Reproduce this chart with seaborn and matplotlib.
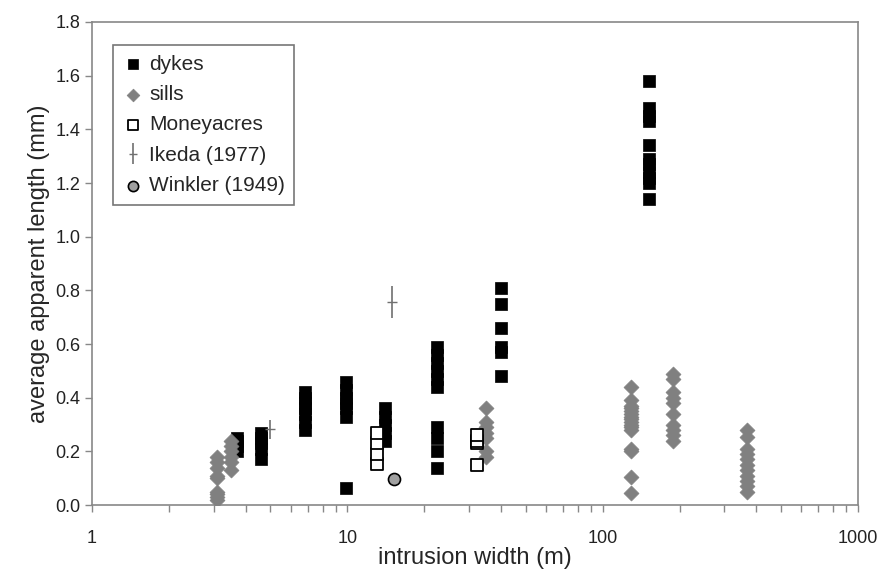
import numpy as np
import pandas as pd
import seaborn as sns
import matplotlib.pyplot as plt

# values
dyke_widths = [3.7, 4.6, 6.8, 9.9, 14.0, 22.4, 40.0, 152.0]
dyke_lengths = [
    [0.20, 0.22, 0.24, 0.25],
    [0.17, 0.21, 0.23, 0.25, 0.27],
    [0.28, 0.31, 0.34, 0.36, 0.38, 0.40, 0.42],
    [0.065, 0.33, 0.36, 0.38, 0.40, 0.43, 0.46],
    [0.24, 0.27, 0.30, 0.33, 0.36],
    [0.14, 0.20, 0.25, 0.29, 0.44, 0.47, 0.50, 0.53, 0.56, 0.59],
    [0.48, 0.57, 0.59, 0.66, 0.75, 0.81],
    [1.14, 1.20, 1.22, 1.24, 1.27, 1.29, 1.34, 1.43, 1.45, 1.48, 1.58],
]

sill_widths = [3.1, 3.5, 35.0, 129.0, 189.0, 368.0]
sill_lengths = [
    [0.02, 0.03, 0.04, 0.05, 0.10, 0.11, 0.14, 0.16, 0.18],
    [0.13, 0.16, 0.18, 0.20, 0.22, 0.24],
    [0.18, 0.20, 0.25, 0.27, 0.29, 0.31, 0.36],
    [0.045, 0.105, 0.20, 0.21, 0.28, 0.29, 0.30, 0.31, 0.32, 0.33, 0.34,
     0.35, 0.36, 0.37, 0.39, 0.44],
    [0.24, 0.26, 0.28, 0.30, 0.34, 0.38, 0.40, 0.42, 0.47, 0.49],
    [0.05, 0.07, 0.09, 0.11, 0.13, 0.15, 0.17, 0.19, 0.21, 0.255, 0.28],
]

money_widths = [13.1, 32.2]
money_lengths = [
    [0.155, 0.19, 0.23, 0.27],
    [0.15, 0.23, 0.24, 0.26],
]

ikeda_x = [5.0, 15.0]
ikeda_y = [0.283, 0.757]
ikeda_err = [0.035, 0.058]

winkler_x = [15.2]
winkler_y = [0.097]


def to_frame(widths, lengths):
    rows = []
    for w, ls in zip(widths, lengths):
        for l in ls:
            rows.append({'width': w, 'length': l})
    return pd.DataFrame(rows)


sns.set_style('ticks')
plt.rcParams['font.family'] = ['Liberation Sans', 'DejaVu Sans']

fig = plt.figure(figsize=(8.79, 5.74), dpi=100)
ax = fig.add_axes([0.1047, 0.120, 0.8714, 0.8417])

dykes = to_frame(dyke_widths, dyke_lengths)
sills = to_frame(sill_widths, sill_lengths)
money = to_frame(money_widths, money_lengths)

sns.scatterplot(data=dykes, x='width', y='length', marker='s', s=85,
                color='black', edgecolor='black', linewidth=0.5,
                label='dykes', ax=ax, zorder=3)
sns.scatterplot(data=sills, x='width', y='length', marker='D', s=58,
                color='#808080', edgecolor='#808080', linewidth=0.5,
                label='sills', ax=ax, zorder=3)
sns.scatterplot(data=money, x='width', y='length', marker='s', s=85,
                facecolor='white', edgecolor='black', linewidth=1.3,
                label='Moneyacres', ax=ax, zorder=3)
ax.errorbar(ikeda_x, ikeda_y, yerr=ikeda_err, fmt='_', color='#707070',
            ecolor='#707070', elinewidth=1.2, markersize=7, capsize=0,
            label='Ikeda (1977)', zorder=3)
sns.scatterplot(x=winkler_x, y=winkler_y, marker='o', s=75,
                facecolor='#a0a0a0', edgecolor='black', linewidth=1.2,
                label='Winkler (1949)', ax=ax, zorder=3)

ax.set_xscale('log')
ax.set_xlim(1, 1000)
ax.set_ylim(0, 1.8)
ax.set_yticks(np.arange(0, 1.81, 0.2))
ax.yaxis.set_major_formatter(plt.FormatStrFormatter('%.1f'))
ax.xaxis.set_major_formatter(plt.FuncFormatter(lambda v, p: f'{v:g}'))

ax.set_xlabel('intrusion width (m)', fontsize=17, labelpad=0)
ax.set_ylabel('average apparent length (mm)', fontsize=17)
ax.tick_params(axis='both', which='major', labelsize=13, color='#888888',
               length=5, width=1, labelcolor='#222222')
ax.tick_params(axis='x', which='major', pad=13)
ax.tick_params(axis='x', which='minor', color='#888888', length=5, width=1)
for sp in ax.spines.values():
    sp.set_color('#888888')
    sp.set_linewidth(1.2)

order = ['dykes', 'sills', 'Moneyacres', 'Ikeda (1977)', 'Winkler (1949)']
handles, labels = ax.get_legend_handles_labels()
lookup = dict(zip(labels, handles))
leg = ax.legend([lookup[k] for k in order], order,
                loc='upper left', bbox_to_anchor=(0.027, 0.952),
                fontsize=15, frameon=True, fancybox=False,
                handletextpad=0.3, handlelength=1.0, borderpad=0.45,
                labelspacing=0.55, borderaxespad=0, markerscale=0.85)
leg.get_frame().set_edgecolor('#555555')
leg.get_frame().set_linewidth(1.2)

plt.savefig('out.png', dpi=100)
